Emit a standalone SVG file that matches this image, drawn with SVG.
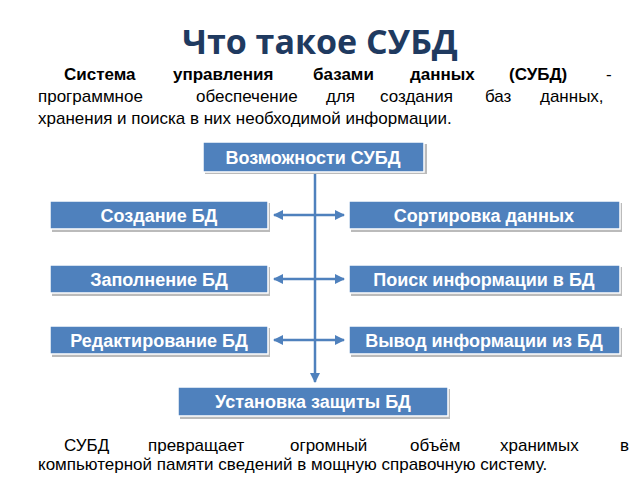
<svg xmlns="http://www.w3.org/2000/svg" width="640" height="480" viewBox="0 0 640 480">
<style>
.b{fill:#4F81BD;stroke:#fff;stroke-width:1.5}
.s{fill:#bbb}
.t{font-family:"Liberation Sans",Arial,sans-serif;font-weight:bold;font-size:18px;fill:#fff;text-anchor:middle}
.p{font-family:"Liberation Sans",Arial,sans-serif;font-size:17px;fill:#000}
.c{stroke:#4F81BD;stroke-width:2.5;fill:none}
</style>
<defs><marker id="a" viewBox="0 0 10 10" refX="9" refY="5" markerWidth="4" markerHeight="4" orient="auto-start-reverse"><path d="M0,0L10,5L0,10z" fill="#4F81BD"/></marker></defs>
<rect width="640" height="480" fill="#fff"/>
<text x="320" y="54" text-anchor="middle" font-family="'Open Sans','Liberation Sans',sans-serif" font-weight="bold" font-size="34" fill="#1F3A60">Что такое СУБД</text>
<text class="p" y="80" font-weight="bold"><tspan x="64">Система</tspan><tspan x="173">управления</tspan><tspan x="313">базами</tspan><tspan x="410">данных</tspan><tspan x="509">(СУБД)</tspan><tspan x="606" font-weight="normal">-</tspan></text>
<text class="p" y="102"><tspan x="38">программное</tspan><tspan x="196">обеспечение</tspan><tspan x="326">для</tspan><tspan x="380">создания</tspan><tspan x="485">баз</tspan><tspan x="540">данных,</tspan></text>
<text class="p" x="38" y="124">хранения и поиска в них необходимой информации.</text>
<g id="connectors">
<path class="c" d="M315,172V382" marker-end="url(#a)"/>
<path class="c" d="M274,215H344" marker-start="url(#a)" marker-end="url(#a)"/>
<path class="c" d="M274,279H344" marker-start="url(#a)" marker-end="url(#a)"/>
<path class="c" d="M274,340H344" marker-start="url(#a)" marker-end="url(#a)"/>
</g>
<g id="n0"><rect class="s" x="205" y="144" width="222" height="30"/><rect class="b" x="203" y="142" width="221" height="30"/><text class="t" x="313" y="164">Возможности СУБД</text></g>
<g id="n1"><rect class="s" x="52" y="203" width="218" height="29"/><rect class="b" x="50" y="201" width="218" height="28"/><text class="t" x="159" y="222">Создание БД</text></g>
<g id="n2"><rect class="s" x="351" y="203" width="271" height="29"/><rect class="b" x="349" y="201" width="271" height="28"/><text class="t" x="484" y="222">Сортировка данных</text></g>
<g id="n3"><rect class="s" x="52" y="267" width="218" height="29"/><rect class="b" x="50" y="265" width="218" height="28"/><text class="t" x="159" y="286">Заполнение БД</text></g>
<g id="n4"><rect class="s" x="351" y="267" width="271" height="29"/><rect class="b" x="349" y="265" width="271" height="28"/><text class="t" x="484" y="286">Поиск информации в БД</text></g>
<g id="n5"><rect class="s" x="52" y="328" width="218" height="29"/><rect class="b" x="50" y="326" width="218" height="28"/><text class="t" x="159" y="347">Редактирование БД</text></g>
<g id="n6"><rect class="s" x="351" y="328" width="271" height="29"/><rect class="b" x="349" y="326" width="271" height="28"/><text class="t" x="484" y="347">Вывод информации из БД</text></g>
<g id="n7"><rect class="s" x="180" y="389" width="270" height="30"/><rect class="b" x="178" y="387" width="270" height="29"/><text class="t" x="313" y="408">Установка защиты БД</text></g>
<text class="p" y="451"><tspan x="64">СУБД</tspan><tspan x="148">превращает</tspan><tspan x="290">огромный</tspan><tspan x="410">объём</tspan><tspan x="500">хранимых</tspan><tspan x="620">в</tspan></text>
<text class="p" x="38" y="470">компьютерной памяти сведений в мощную справочную систему.</text>
</svg>
